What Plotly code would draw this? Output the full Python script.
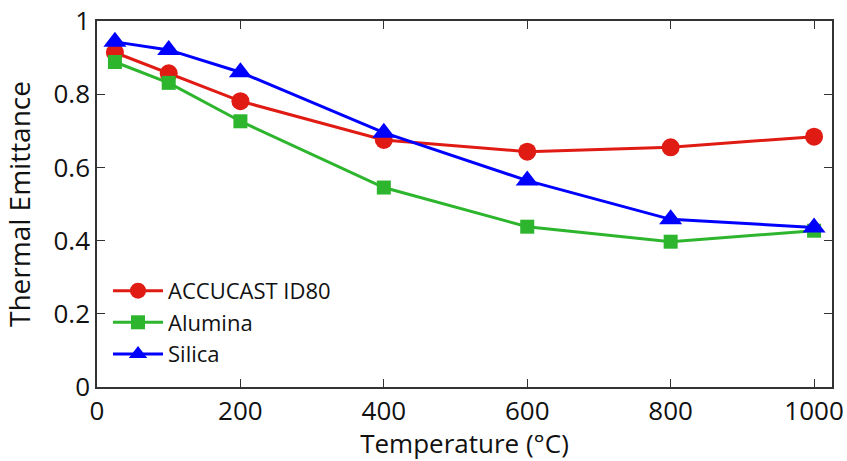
import plotly.graph_objects as go

# Temperatures (°C) and thermal emittance per coating
temperature = [25, 100, 200, 400, 600, 800, 1000]
accucast = [0.914, 0.857, 0.781, 0.675, 0.643, 0.655, 0.684]
alumina = [0.888, 0.831, 0.726, 0.545, 0.438, 0.397, 0.427]
silica = [0.943, 0.921, 0.860, 0.695, 0.564, 0.458, 0.436]

x_ticks = [0, 200, 400, 600, 800, 1000]
y_ticks = [0, 0.2, 0.4, 0.6, 0.8, 1]

FONT = "Open Sans"

fig = go.Figure()
fig.add_trace(go.Scatter(
    x=temperature, y=accucast, name="ACCUCAST ID80", mode="lines+markers",
    line=dict(color="#e01b14", width=3),
    marker=dict(symbol="circle", size=18, color="#e01b14"),
))
fig.add_trace(go.Scatter(
    x=temperature, y=alumina, name="Alumina", mode="lines+markers",
    line=dict(color="#2db52d", width=3),
    marker=dict(symbol="square", size=14, color="#2db52d"),
))
fig.add_trace(go.Scatter(
    x=temperature, y=silica, name="Silica", mode="lines+markers",
    line=dict(color="#0000ff", width=3),
    marker=dict(symbol="triangle-up", size=20, color="#0000ff"),
))

axis_common = dict(
    showline=True, linecolor="#333333", linewidth=1.5, mirror="ticks",
    ticks="inside", ticklen=8, tickcolor="#333333", tickwidth=1,
    showgrid=False, zeroline=False,
    tickfont=dict(family=FONT, size=26, color="#111111"),
)

fig.update_layout(
    width=847, height=461,
    margin=dict(l=97, r=15, t=21, b=74),
    paper_bgcolor="white", plot_bgcolor="white",
    font=dict(family=FONT, color="#111111"),
    xaxis=dict(
        range=[0, 1025], tickvals=x_ticks, automargin="bottom",
        title=dict(text="Temperature (°C)", font=dict(family=FONT, size=26), standoff=2),
        **axis_common,
    ),
    yaxis=dict(
        range=[0, 1], tickvals=y_ticks, ticktext=["0", "0.2", "0.4", "0.6", "0.8", "1"],
        automargin=False,
        title=dict(text="Thermal Emittance", font=dict(family=FONT, size=28)),
        **axis_common,
    ),
    legend=dict(
        x=0.015, y=0.32, xanchor="left", yanchor="top",
        bgcolor="rgba(0,0,0,0)", borderwidth=0,
        font=dict(family=FONT, size=22, color="#111111"),
        itemwidth=50, tracegroupgap=0,
    ),
)

fig.write_html("out.html")
